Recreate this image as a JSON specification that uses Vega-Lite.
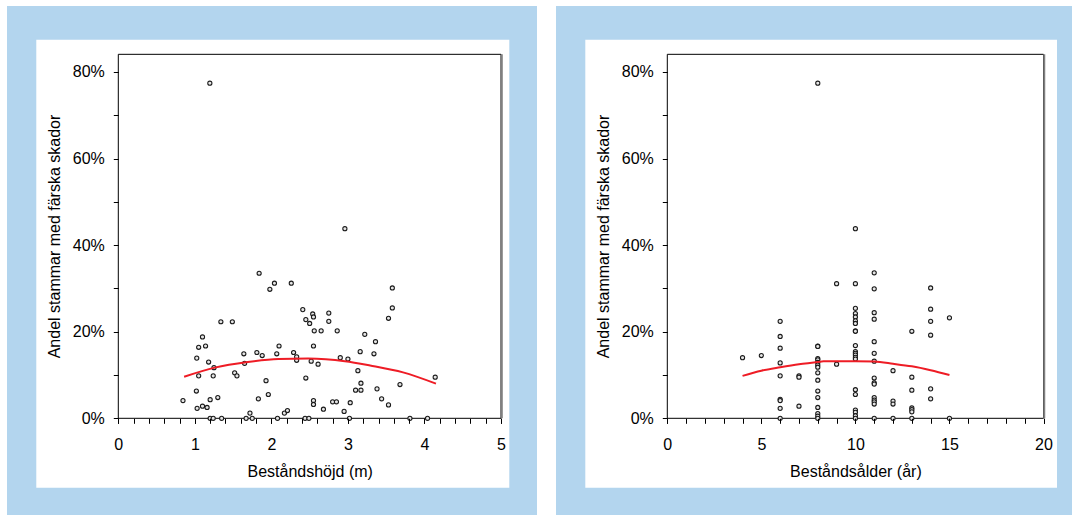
{
  "$schema": "https://vega.github.io/schema/vega-lite/v6.json",
  "background": "white",
  "padding": {"left": 7, "top": 6, "right": 0, "bottom": 0},
  "bounds": "flush",
  "spacing": 19,
  "config": {
    "view": {"fill": "#b3d5ee", "stroke": null},
    "font": "Liberation Sans",
    "axis": {
      "domain": false,
      "grid": false,
      "ticks": true,
      "tickSize": 5,
      "tickColor": "black",
      "tickWidth": 1,
      "labelFont": "Liberation Sans",
      "labelFontSize": 16,
      "labelColor": "black",
      "titleFont": "Liberation Sans",
      "titleFontSize": 16,
      "titleFontWeight": "normal",
      "titleColor": "black"
    }
  },
  "datasets": {
    "hojd": [
      {"h": 0.845, "p": 0.041}, {"h": 1.02, "p": 0.063}, {"h": 1.025, "p": 0.139}, {"h": 1.03, "p": 0.023},
      {"h": 1.05, "p": 0.164}, {"h": 1.05, "p": 0.098}, {"h": 1.10, "p": 0.188}, {"h": 1.10, "p": 0.028},
      {"h": 1.14, "p": 0.167}, {"h": 1.16, "p": 0.025}, {"h": 1.18, "p": 0.130}, {"h": 1.20, "p": 0.043},
      {"h": 1.20, "p": 0.0}, {"h": 1.24, "p": 0.098}, {"h": 1.24, "p": 0.0}, {"h": 1.25, "p": 0.117},
      {"h": 1.30, "p": 0.048}, {"h": 1.34, "p": 0.223}, {"h": 1.35, "p": 0.0}, {"h": 1.49, "p": 0.223},
      {"h": 1.52, "p": 0.105}, {"h": 1.55, "p": 0.098}, {"h": 1.64, "p": 0.149}, {"h": 1.65, "p": 0.127},
      {"h": 1.67, "p": 0.0}, {"h": 1.72, "p": 0.012}, {"h": 1.75, "p": 0.0}, {"h": 1.81, "p": 0.152},
      {"h": 1.83, "p": 0.045}, {"h": 1.84, "p": 0.335}, {"h": 1.88, "p": 0.145}, {"h": 1.93, "p": 0.087},
      {"h": 1.96, "p": 0.055}, {"h": 1.98, "p": 0.298}, {"h": 2.04, "p": 0.312}, {"h": 2.07, "p": 0.149},
      {"h": 2.08, "p": 0.0}, {"h": 2.10, "p": 0.167}, {"h": 2.17, "p": 0.012}, {"h": 2.21, "p": 0.018},
      {"h": 2.26, "p": 0.312}, {"h": 2.29, "p": 0.152}, {"h": 2.33, "p": 0.142}, {"h": 2.33, "p": 0.134},
      {"h": 2.41, "p": 0.251}, {"h": 2.45, "p": 0.093}, {"h": 2.45, "p": 0.228}, {"h": 2.44, "p": 0.0},
      {"h": 2.49, "p": 0.0}, {"h": 2.50, "p": 0.219}, {"h": 2.52, "p": 0.132}, {"h": 2.54, "p": 0.241},
      {"h": 2.55, "p": 0.234}, {"h": 2.55, "p": 0.167}, {"h": 2.55, "p": 0.041}, {"h": 2.55, "p": 0.032},
      {"h": 2.56, "p": 0.202}, {"h": 2.61, "p": 0.125}, {"h": 2.65, "p": 0.202}, {"h": 2.68, "p": 0.021},
      {"h": 2.75, "p": 0.243}, {"h": 2.75, "p": 0.224}, {"h": 2.80, "p": 0.038}, {"h": 2.85, "p": 0.038},
      {"h": 2.86, "p": 0.202}, {"h": 2.90, "p": 0.140}, {"h": 2.95, "p": 0.016}, {"h": 3.00, "p": 0.137},
      {"h": 3.02, "p": 0.0}, {"h": 3.03, "p": 0.036}, {"h": 3.10, "p": 0.065}, {"h": 3.13, "p": 0.110},
      {"h": 3.16, "p": 0.154}, {"h": 3.17, "p": 0.081}, {"h": 3.17, "p": 0.065}, {"h": 3.22, "p": 0.194},
      {"h": 3.34, "p": 0.149}, {"h": 3.36, "p": 0.177}, {"h": 3.38, "p": 0.068}, {"h": 3.44, "p": 0.045},
      {"h": 3.53, "p": 0.031}, {"h": 3.53, "p": 0.231}, {"h": 3.58, "p": 0.255}, {"h": 3.58, "p": 0.301},
      {"h": 3.68, "p": 0.078}, {"h": 3.81, "p": 0.0}, {"h": 4.04, "p": 0.0}, {"h": 4.14, "p": 0.095},
      {"h": 1.196, "p": 0.774}, {"h": 2.96, "p": 0.438}
    ],
    "fitH": [
      {"h": 0.86, "p": 0.096}, {"h": 1.26, "p": 0.117}, {"h": 1.69, "p": 0.130}, {"h": 2.09, "p": 0.137},
      {"h": 2.48, "p": 0.138}, {"h": 2.96, "p": 0.132}, {"h": 3.29, "p": 0.122}, {"h": 3.72, "p": 0.106},
      {"h": 4.15, "p": 0.080}
    ],
    "alder": [
      {"a": 4, "p": 0.140}, {"a": 5, "p": 0.145},
      {"a": 6, "p": 0.224}, {"a": 6, "p": 0.189}, {"a": 6, "p": 0.162}, {"a": 6, "p": 0.128}, {"a": 6, "p": 0.098},
      {"a": 6, "p": 0.044}, {"a": 6, "p": 0.041}, {"a": 6, "p": 0.023}, {"a": 6, "p": 0.0},
      {"a": 7, "p": 0.098}, {"a": 7, "p": 0.095}, {"a": 7, "p": 0.028},
      {"a": 8, "p": 0.167}, {"a": 8, "p": 0.166}, {"a": 8, "p": 0.138}, {"a": 8, "p": 0.135}, {"a": 8, "p": 0.129},
      {"a": 8, "p": 0.123}, {"a": 8, "p": 0.118}, {"a": 8, "p": 0.105}, {"a": 8, "p": 0.088}, {"a": 8, "p": 0.063},
      {"a": 8, "p": 0.048}, {"a": 8, "p": 0.025}, {"a": 8, "p": 0.011}, {"a": 8, "p": 0.005}, {"a": 8, "p": 0.0},
      {"a": 8, "p": 0.774},
      {"a": 9, "p": 0.311}, {"a": 9, "p": 0.125},
      {"a": 10, "p": 0.311}, {"a": 10, "p": 0.254}, {"a": 10, "p": 0.242}, {"a": 10, "p": 0.234}, {"a": 10, "p": 0.225},
      {"a": 10, "p": 0.219}, {"a": 10, "p": 0.202}, {"a": 10, "p": 0.201}, {"a": 10, "p": 0.168}, {"a": 10, "p": 0.154},
      {"a": 10, "p": 0.150}, {"a": 10, "p": 0.146}, {"a": 10, "p": 0.141}, {"a": 10, "p": 0.137}, {"a": 10, "p": 0.066},
      {"a": 10, "p": 0.055}, {"a": 10, "p": 0.019}, {"a": 10, "p": 0.014}, {"a": 10, "p": 0.006}, {"a": 10, "p": 0.0},
      {"a": 10, "p": 0.438},
      {"a": 11, "p": 0.336}, {"a": 11, "p": 0.299}, {"a": 11, "p": 0.244}, {"a": 11, "p": 0.229}, {"a": 11, "p": 0.177},
      {"a": 11, "p": 0.150}, {"a": 11, "p": 0.132}, {"a": 11, "p": 0.093}, {"a": 11, "p": 0.082}, {"a": 11, "p": 0.079},
      {"a": 11, "p": 0.048}, {"a": 11, "p": 0.042}, {"a": 11, "p": 0.038}, {"a": 11, "p": 0.033}, {"a": 11, "p": 0.0},
      {"a": 12, "p": 0.110}, {"a": 12, "p": 0.040}, {"a": 12, "p": 0.033}, {"a": 12, "p": 0.0},
      {"a": 13, "p": 0.201}, {"a": 13, "p": 0.095}, {"a": 13, "p": 0.065}, {"a": 13, "p": 0.024}, {"a": 13, "p": 0.020},
      {"a": 13, "p": 0.015}, {"a": 13, "p": 0.0},
      {"a": 14, "p": 0.301}, {"a": 14, "p": 0.252}, {"a": 14, "p": 0.224}, {"a": 14, "p": 0.192}, {"a": 14, "p": 0.068},
      {"a": 14, "p": 0.045},
      {"a": 15, "p": 0.232}, {"a": 15, "p": 0.0}
    ],
    "fitA": [
      {"a": 4, "p": 0.098}, {"a": 5, "p": 0.110}, {"a": 6, "p": 0.118}, {"a": 7, "p": 0.125}, {"a": 8, "p": 0.130},
      {"a": 8.3, "p": 0.132}, {"a": 9, "p": 0.132}, {"a": 10, "p": 0.132}, {"a": 11, "p": 0.131}, {"a": 12, "p": 0.126},
      {"a": 13, "p": 0.120}, {"a": 14, "p": 0.111}, {"a": 15, "p": 0.100}
    ]
  },
  "hconcat": [
    {
      "width": 530,
      "height": 509,
      "resolve": {"axis": {"x": "independent"}},
      "layer": [
        {
          "data": {"values": [{}]},
          "mark": {"type": "rect", "fill": "white", "stroke": null, "clip": false},
          "encoding": {
            "x": {"datum": -1.0713, "type": "quantitative",
              "scale": {"domain": [-1.454, 5.470], "nice": false, "zero": false},
              "axis": {
                "title": "Beståndshöjd (m)",
                "orient": "bottom", "zindex": 1,
                "labelOverlap": false, "labelFlush": false, "labelBound": false,
                "values": [0, 1, 2, 3, 4, 5],
                "format": "d",
                "offset": -96.7, "labelPadding": 13,
                "titleX": 302.7, "titleY": 45.5, "titleBaseline": "top", "titleAlign": "center"
              }
            },
            "x2": {"datum": 5.108},
            "y": {"datum": 0.8744, "type": "quantitative", "title": "Andel stammar med färska skador",
              "scale": {"domain": [-0.2233, 0.9522], "nice": false, "zero": false},
              "axis": {
                "title": "Andel stammar med färska skador",
                "zindex": 1,
                "labelOverlap": false, "labelFlush": false, "labelBound": false,
                "values": [0, 0.1, 0.2, 0.3, 0.4, 0.5, 0.6, 0.7, 0.8],
                "format": ".0%",
                "labelExpr": "indexof(['0%','20%','40%','60%','80%'], datum.label) >= 0 ? datum.label : ''",
                "offset": -111.3, "labelPadding": 9,
                "titleX": -64, "titleY": 230, "titleAngle": 270, "titleBaseline": "middle", "titleAlign": "center"
              }
            },
            "y2": {"datum": -0.1603}
          }
        },
        {
          "data": {"values": [{}]},
          "mark": {"type": "rect", "fill": null, "stroke": "black", "strokeWidth": 1},
          "encoding": {
            "x": {"datum": 0, "type": "quantitative",
              "axis": {
                "orient": "bottom", "zindex": 1, "labels": false, "title": null,
                "values": [0, 0.2, 0.4, 0.6, 0.8, 1, 1.2, 1.4, 1.6, 1.8, 2, 2.2, 2.4, 2.6, 2.8, 3, 3.2, 3.4, 3.6, 3.8, 4, 4.2, 4.4, 4.6, 4.8, 5],
                "offset": -96.7
              }
            },
            "x2": {"datum": 5},
            "y": {"datum": 0, "type": "quantitative", "title": "Andel stammar med färska skador"},
            "y2": {"datum": 0.8406}
          }
        },
        {
          "data": {"values": [{}]},
          "mark": {"type": "rule", "stroke": "#808080", "strokeWidth": 2},
          "encoding": {
            "x": {"datum": 5.01, "type": "quantitative", "axis": null},
            "y": {"datum": 0, "type": "quantitative", "title": "Andel stammar med färska skador"},
            "y2": {"datum": 0.8406}
          }
        },
        {
          "data": {"name": "hojd"},
          "mark": {"type": "point", "shape": "circle", "filled": true, "fill": "#e6e6e6", "stroke": "#1a1a1a", "strokeWidth": 1.1, "size": 17, "opacity": 1},
          "encoding": {
            "x": {"field": "h", "type": "quantitative", "axis": null},
            "y": {"field": "p", "type": "quantitative", "title": "Andel stammar med färska skador"}
          }
        },
        {
          "data": {"name": "fitH"},
          "mark": {"type": "line", "color": "#ee1c25", "strokeWidth": 2, "interpolate": "monotone"},
          "encoding": {
            "x": {"field": "h", "type": "quantitative", "axis": null},
            "y": {"field": "p", "type": "quantitative", "title": "Andel stammar med färska skador"}
          }
        }
      ]
    },
    {
      "width": 516,
      "height": 509,
      "resolve": {"axis": {"x": "independent"}},
      "layer": [
        {
          "data": {"values": [{}]},
          "mark": {"type": "rect", "fill": "white", "stroke": null, "clip": false},
          "encoding": {
            "x": {"datum": -4.359, "type": "quantitative",
              "scale": {"domain": [-5.917, 21.515], "nice": false, "zero": false},
              "axis": {
                "title": "Beståndsålder (år)",
                "orient": "bottom", "zindex": 1,
                "labelOverlap": false, "labelFlush": false, "labelBound": false,
                "values": [0, 5, 10, 15, 20],
                "format": "d",
                "offset": -96.7, "labelPadding": 13,
                "titleX": 299.4, "titleY": 45.5, "titleBaseline": "top", "titleAlign": "center"
              }
            },
            "x2": {"datum": 20.718},
            "y": {"datum": 0.8744, "type": "quantitative", "title": "Andel stammar med färska skador",
              "scale": {"domain": [-0.2233, 0.9522], "nice": false, "zero": false},
              "axis": {
                "title": "Andel stammar med färska skador",
                "zindex": 1,
                "labelOverlap": false, "labelFlush": false, "labelBound": false,
                "values": [0, 0.1, 0.2, 0.3, 0.4, 0.5, 0.6, 0.7, 0.8],
                "format": ".0%",
                "labelExpr": "indexof(['0%','20%','40%','60%','80%'], datum.label) >= 0 ? datum.label : ''",
                "offset": -111.3, "labelPadding": 9,
                "titleX": -64, "titleY": 230, "titleAngle": 270, "titleBaseline": "middle", "titleAlign": "center"
              }
            },
            "y2": {"datum": -0.1603}
          }
        },
        {
          "data": {"values": [{}]},
          "mark": {"type": "rect", "fill": null, "stroke": "black", "strokeWidth": 1},
          "encoding": {
            "x": {"datum": 0, "type": "quantitative",
              "axis": {
                "orient": "bottom", "zindex": 1, "labels": false, "title": null,
                "values": [0, 1, 2, 3, 4, 5, 6, 7, 8, 9, 10, 11, 12, 13, 14, 15, 16, 17, 18, 19, 20],
                "offset": -96.7
              }
            },
            "x2": {"datum": 20},
            "y": {"datum": 0, "type": "quantitative", "title": "Andel stammar med färska skador"},
            "y2": {"datum": 0.8406}
          }
        },
        {
          "data": {"values": [{}]},
          "mark": {"type": "rule", "stroke": "#808080", "strokeWidth": 2},
          "encoding": {
            "x": {"datum": 20.04, "type": "quantitative", "axis": null},
            "y": {"datum": 0, "type": "quantitative", "title": "Andel stammar med färska skador"},
            "y2": {"datum": 0.8406}
          }
        },
        {
          "data": {"name": "alder"},
          "mark": {"type": "point", "shape": "circle", "filled": true, "fill": "#e6e6e6", "stroke": "#1a1a1a", "strokeWidth": 1.1, "size": 17, "opacity": 1},
          "encoding": {
            "x": {"field": "a", "type": "quantitative", "axis": null},
            "y": {"field": "p", "type": "quantitative", "title": "Andel stammar med färska skador"}
          }
        },
        {
          "data": {"name": "fitA"},
          "mark": {"type": "line", "color": "#ee1c25", "strokeWidth": 2, "interpolate": "monotone"},
          "encoding": {
            "x": {"field": "a", "type": "quantitative", "axis": null},
            "y": {"field": "p", "type": "quantitative", "title": "Andel stammar med färska skador"}
          }
        }
      ]
    }
  ]
}
